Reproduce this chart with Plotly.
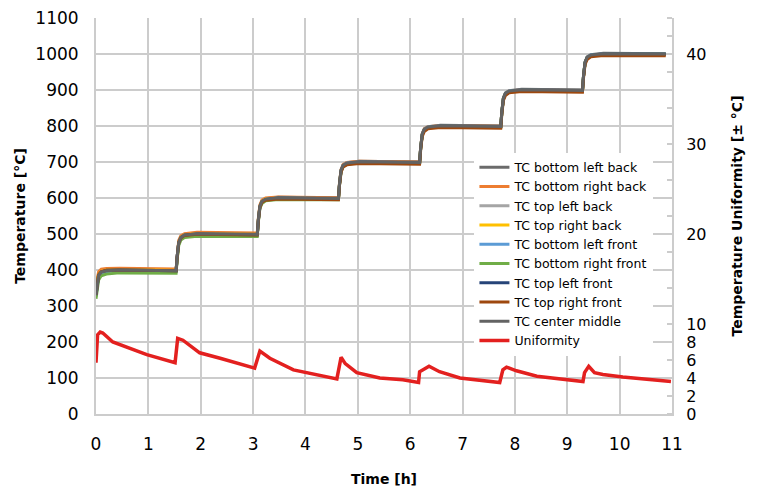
import plotly.graph_objects as go

# time nodes (h) shared by all thermocouple series
time_tc = [0.00, 0.02, 0.05, 0.10, 0.20, 0.45,
           1.53, 1.55, 1.58, 1.62, 1.69, 1.93,
           3.08, 3.10, 3.13, 3.17, 3.24, 3.48,
           4.63, 4.65, 4.68, 4.72, 4.79, 5.03,
           6.18, 6.20, 6.23, 6.27, 6.34, 6.58,
           7.73, 7.75, 7.78, 7.82, 7.89, 8.13,
           9.29, 9.31, 9.34, 9.38, 9.45, 9.69,
           10.88]

tc_bottom_left_back = [335, 366, 389, 397, 400, 401,
                       399, 440, 478, 492, 499, 502,
                       500, 540, 578, 592, 598, 602,
                       600, 640, 678, 692, 698, 702,
                       700, 740, 778, 792, 798, 802,
                       800, 840, 878, 892, 898, 902,
                       900, 940, 978, 992, 998, 1002,
                       1001]
tc_bottom_right_back = [340, 372, 395, 402, 404, 405,
                        403, 445, 482, 495, 501, 505,
                        503, 543, 581, 594, 600, 603,
                        601, 641, 679, 693, 699, 702,
                        700, 740, 778, 792, 798, 801,
                        799, 839, 877, 891, 897, 900,
                        898, 938, 976, 990, 996, 999,
                        998]
tc_top_left_back = [328, 358, 384, 393, 397, 399,
                    397, 437, 475, 489, 496, 500,
                    498, 538, 576, 590, 596, 600,
                    598, 638, 676, 690, 696, 700,
                    698, 738, 776, 790, 796, 800,
                    798, 838, 876, 890, 896, 900,
                    898, 938, 976, 990, 996, 1000,
                    999]
tc_top_right_back = [333, 364, 388, 396, 400, 401,
                     399, 439, 477, 491, 498, 501,
                     499, 539, 577, 591, 597, 600,
                     598, 638, 676, 690, 696, 699,
                     697, 737, 775, 789, 795, 799,
                     797, 837, 875, 889, 895, 899,
                     897, 937, 975, 989, 995, 999,
                     998]
tc_bottom_left_front = [326, 355, 381, 391, 396, 398,
                        396, 436, 474, 488, 495, 499,
                        497, 537, 575, 589, 596, 600,
                        598, 638, 676, 690, 697, 700,
                        698, 738, 776, 790, 797, 800,
                        798, 838, 876, 890, 897, 900,
                        898, 938, 976, 990, 997, 1000,
                        999]
tc_bottom_right_front = [320, 345, 372, 384, 389, 392,
                         391, 430, 468, 483, 490, 494,
                         493, 533, 571, 585, 592, 596,
                         595, 635, 673, 687, 694, 698,
                         697, 737, 775, 789, 796, 799,
                         798, 838, 876, 890, 896, 899,
                         898, 938, 976, 990, 996, 999,
                         999]
tc_top_left_front = [331, 361, 386, 395, 399, 400,
                     398, 438, 476, 490, 497, 500,
                     498, 538, 576, 590, 596, 600,
                     598, 638, 676, 690, 696, 700,
                     698, 738, 776, 790, 796, 800,
                     798, 838, 876, 890, 896, 900,
                     898, 938, 976, 990, 996, 1000,
                     999]
tc_top_right_front = [332, 362, 387, 395, 399, 400,
                      398, 437, 475, 489, 496, 499,
                      497, 536, 574, 588, 594, 597,
                      595, 634, 672, 686, 692, 696,
                      694, 733, 771, 785, 792, 796,
                      794, 833, 871, 885, 892, 896,
                      894, 933, 971, 985, 992, 996,
                      995]
tc_center_middle = [330, 360, 385, 394, 398, 400,
                    398, 438, 476, 490, 497, 501,
                    499, 539, 577, 591, 597, 601,
                    599, 639, 677, 691, 697, 701,
                    699, 739, 777, 791, 797, 801,
                    799, 839, 877, 891, 897, 901,
                    899, 939, 977, 991, 997, 1001,
                    1000]

# temperature uniformity (± °C), right axis
time_unif = [0.00, 0.03, 0.08, 0.13, 0.32, 0.97, 1.51,
             1.56, 1.66, 1.98, 2.37, 3.03,
             3.13, 3.32, 3.77, 4.60,
             4.68, 4.76, 4.98, 5.42, 5.86, 6.16,
             6.18, 6.36, 6.56, 6.95, 7.71,
             7.77, 7.84, 8.03, 8.42, 9.30,
             9.33, 9.41, 9.52, 9.68, 10.06, 10.50, 10.98]
uniformity = [5.7, 8.8, 9.1, 9.0, 8.0, 6.6, 5.7,
              8.4, 8.2, 6.8, 6.2, 5.1,
              7.0, 6.2, 4.9, 3.9,
              6.3, 5.6, 4.6, 4.0, 3.8, 3.5,
              4.7, 5.3, 4.7, 4.0, 3.5,
              4.9, 5.2, 4.8, 4.2, 3.6,
              4.6, 5.3, 4.6, 4.4, 4.1, 3.9, 3.6]

x_ticks = list(range(0, 12))
y_ticks = list(range(0, 1101, 100))
y2_ticks = [0, 2, 4, 6, 8, 10, 20, 30, 40]
y2_minor = list(range(0, 45, 2))

series = [
    ('TC bottom left back', tc_bottom_left_back, '#6b6b6b'),
    ('TC bottom right back', tc_bottom_right_back, '#ed7d31'),
    ('TC top left back', tc_top_left_back, '#a5a5a5'),
    ('TC top right back', tc_top_right_back, '#ffc000'),
    ('TC bottom left front', tc_bottom_left_front, '#5b9bd5'),
    ('TC bottom right front', tc_bottom_right_front, '#70ad47'),
    ('TC top left front', tc_top_left_front, '#264478'),
    ('TC top right front', tc_top_right_front, '#9e480e'),
    ('TC center middle', tc_center_middle, '#636363'),
]

font_family = 'DejaVu Sans'
grid_color = '#cccccc'

fig = go.Figure()

for name, values, color in series:
    fig.add_trace(go.Scatter(
        x=time_tc,
        y=values,
        mode='lines',
        name=name,
        line=dict(color=color, width=3),
    ))

fig.add_trace(go.Scatter(
    x=time_unif,
    y=uniformity,
    mode='lines',
    name='Uniformity',
    yaxis='y2',
    line=dict(color='#e3201f', width=3.5),
))

fig.update_layout(

    width=759,
    height=488,
    margin=dict(l=96, r=87, t=18, b=74),
    paper_bgcolor='white',
    plot_bgcolor='white',
    font=dict(family=font_family, color='black'),

    xaxis=dict(
        range=[0, 11],
        tickmode='array',
        tickvals=x_ticks,
        tickfont=dict(size=17),
        ticklabelstandoff=14,
        showgrid=True,
        gridcolor=grid_color,
        gridwidth=2,
        showline=True,
        linecolor=grid_color,
        linewidth=2,
        zeroline=False,
        automargin=False,
        title=dict(
            text='<b>Time [h]</b>',
            font=dict(size=14),
            standoff=21,
        ),
    ),

    yaxis=dict(
        range=[0, 1100],
        tickmode='array',
        tickvals=y_ticks,
        tickfont=dict(size=17),
        ticklabelstandoff=12,
        showgrid=True,
        gridcolor=grid_color,
        gridwidth=2,
        showline=True,
        linecolor=grid_color,
        linewidth=2,
        zeroline=False,
        automargin=False,
        title=dict(
            text='<b>Temperature [°C]</b>',
            font=dict(size=14),
            standoff=6,
        ),
    ),

    yaxis2=dict(
        range=[0, 44],
        overlaying='y',
        side='right',
        tickmode='array',
        tickvals=y2_ticks,
        tickfont=dict(size=16),
        ticklabelstandoff=9,
        showgrid=False,
        showline=True,
        linecolor=grid_color,
        linewidth=2,
        zeroline=False,
        automargin=False,
        minor=dict(
            tickmode='array',
            tickvals=y2_minor,
            ticks='inside',
            ticklen=5,
            tickcolor=grid_color,
            tickwidth=2,
            showgrid=False,
        ),
        title=dict(
            text='<b>Temperature Uniformity [± °C]</b>',
            font=dict(size=14),
            standoff=27,
        ),
    ),

    legend=dict(
        x=0.657,
        y=0.66,
        xanchor='left',
        yanchor='top',
        bgcolor='white',
        font=dict(size=12.5),
        tracegroupgap=0,
    ),

)

# drop the default page margin so the figure sits at the window's corner
fig.write_html(
    'out.html',
    config=dict(displayModeBar=False),
    post_script="document.body.style.margin='0';",
)
